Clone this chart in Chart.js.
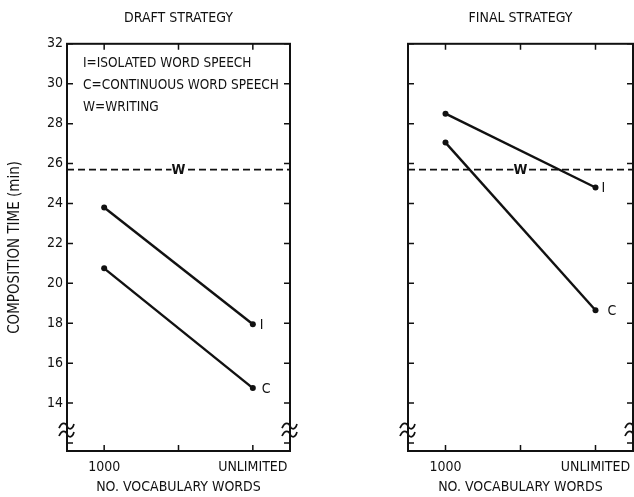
<!DOCTYPE html>
<html><head><meta charset="utf-8">
<script src="https://cdn.jsdelivr.net/npm/chart.js@4"></script>
<style>
html,body{margin:0;padding:0;background:#fff;}
#wrap{position:relative;width:634px;height:497px;overflow:hidden;background:#fff}
canvas{position:absolute;top:0}
#draft{left:0}
#final{left:317px}
</style></head><body>
<div id="wrap"><canvas id="draft" width="317" height="497"></canvas><canvas id="final" width="317" height="497"></canvas></div>
<script>
// Composition time (min) by vocabulary size, for two strategies
const vocabTickLabels = ['1000', '', 'UNLIMITED'];
const vocabX = [0, 2];              // positions of "1000" and "UNLIMITED"
const yTickValues = [12, 14, 16, 18, 20, 22, 24, 26, 28, 30, 32];

const draftIsolated   = [23.8, 17.95];
const draftContinuous = [20.75, 14.75];
const draftWriting    = 25.7;

const finalIsolated   = [28.5, 24.8];
const finalContinuous = [27.05, 18.65];
const finalWriting    = 25.7;

const legendLines = ['I=ISOLATED WORD SPEECH', 'C=CONTINUOUS WORD SPEECH', 'W=WRITING'];

const X_MIN = -0.5, X_MAX = 2.5, Y_MIN = 11.6, Y_MAX = 32;
const FONT = "'Liberation Sans Narrow','DejaVu Sans Condensed','DejaVu Sans',sans-serif";
const INK = '#111';
const TXT = 14;

function pts(values) { return values.map((v, i) => ({ x: vocabX[i], y: v })); }

// frame, inward ticks, axis breaks, series letters and key text
const plotDecor = {
  id: 'plotDecor',
  afterDatasetsDraw(chart, args, opts) {
    const ctx = chart.ctx, a = chart.chartArea;
    const xs = chart.scales.x, ys = chart.scales.y;
    ctx.save();
    ctx.strokeStyle = INK; ctx.fillStyle = INK;
    ctx.lineWidth = 2;
    ctx.strokeRect(a.left, a.top, a.right - a.left, a.bottom - a.top);
    ctx.lineWidth = 1.5;
    ctx.beginPath();
    ys.ticks.forEach(t => {
      const p = ys.getPixelForValue(t.value);
      if (p < a.top - 1 || p > a.bottom + 1) return;
      ctx.moveTo(a.left, p); ctx.lineTo(a.left + 6, p);
      ctx.moveTo(a.right, p); ctx.lineTo(a.right - 6, p);
    });
    xs.ticks.forEach(t => {
      const p = xs.getPixelForValue(t.value);
      ctx.moveTo(p, a.top); ctx.lineTo(p, a.top + 6);
      ctx.moveTo(p, a.bottom); ctx.lineTo(p, a.bottom - 6);
    });
    ctx.stroke();

    // axis break marks on both vertical axes
    ctx.lineWidth = 1.7;
    [a.left, a.right].forEach(x => {
      opts.breaks.forEach(v => {
        const y = ys.getPixelForValue(v);
        ctx.beginPath();
        ctx.moveTo(x - 8, y + 2);
        ctx.bezierCurveTo(x - 5, y - 5, x - 1, y - 3, x, y);
        ctx.bezierCurveTo(x + 1, y + 3, x + 5, y + 5, x + 7, y - 2);
        ctx.stroke();
      });
    });

    ctx.font = TXT + 'px ' + FONT;
    ctx.textBaseline = 'middle';
    // series letters at the line ends
    chart.data.datasets.forEach((ds, i) => {
      const meta = chart.getDatasetMeta(i);
      if (!ds.code) return;
      if (ds.isReference) {
        const x = xs.getPixelForValue(1);
        const y = ys.getPixelForValue(ds.data[0].y);
        ctx.fillStyle = '#fff';
        ctx.fillRect(x - 7, y - 7, 14, 14);
        ctx.fillStyle = INK;
        ctx.textAlign = 'center';
        ctx.font = 'bold ' + TXT + 'px ' + FONT;
        ctx.fillText(ds.code, x, y + 1);
        ctx.font = TXT + 'px ' + FONT;
      } else {
        const el = meta.data[meta.data.length - 1];
        ctx.textAlign = 'left';
        ctx.fillText(ds.code, el.x + ds.codeOffset, el.y + 1);
      }
    });

    if (opts.key) {
      ctx.textAlign = 'left';
      ctx.font = '13.5px ' + FONT;
      opts.key.forEach((line, i) => ctx.fillText(line, a.left + 16, a.top + 20 + i * 22));
    }
    ctx.restore();
  }
};

function makeChart(id, title, isoVals, conVals, writing, opts) {
  const f = { family: FONT, size: TXT, weight: 'normal' };
  return new Chart(document.getElementById(id), {
    type: 'line',
    data: {
      datasets: [
        { data: pts(isoVals), code: 'I', codeOffset: opts.iOffset },
        { data: pts(conVals), code: 'C', codeOffset: opts.cOffset },
        { data: [{ x: X_MIN, y: writing }, { x: X_MAX, y: writing }], code: 'W', isReference: true,
          borderDash: [7, 4], borderWidth: 1.7, pointRadius: 0 }
      ]
    },
    options: {
      responsive: false,
      animation: false,
      layout: { autoPadding: false, padding: { top: 0, left: 0, right: opts.padRight, bottom: 0 } },
      elements: {
        line: { borderColor: INK, borderWidth: 2.4, tension: 0 },
        point: { radius: 3, backgroundColor: INK, borderColor: INK, borderWidth: 0 }
      },
      plugins: {
        legend: { display: false },
        tooltip: { enabled: false },
        title: {
          display: true, text: title, fullSize: false, color: INK,
          font: f, padding: { top: 10, bottom: 17 }
        },
        plotDecor: { breaks: [12.85, 12.45], key: opts.key }
      },
      scales: {
        x: {
          type: 'linear', min: X_MIN, max: X_MAX,
          afterBuildTicks: s => { s.ticks = [0, 1, 2].map(v => ({ value: v })); },
          afterFit: s => { s.height = 46; },
          grid: { display: false }, border: { display: false },
          ticks: {
            autoSkip: false, maxRotation: 0, padding: 0, color: INK, font: f,
            callback: v => vocabTickLabels[v] ?? ''
          },
          title: {
            display: true, text: 'NO. VOCABULARY WORDS', color: INK,
            font: f, padding: { top: 0, bottom: 1 }
          }
        },
        y: {
          type: 'linear', min: Y_MIN, max: Y_MAX,
          afterBuildTicks: s => { s.ticks = yTickValues.map(v => ({ value: v })); },
          afterFit: s => { s.width = opts.yWidth; },
          grid: { display: false }, border: { display: false },
          ticks: {
            display: opts.showYLabels, padding: -4, color: INK, font: f,
            callback: v => (v === yTickValues[0] ? '' : String(v))
          },
          title: {
            display: opts.showYLabels, text: 'COMPOSITION TIME (min)', color: INK,
            font: { family: FONT, size: 15, weight: 'normal' }, padding: { top: 6, bottom: 0 }
          }
        }
      }
    },
    plugins: [plotDecor]
  });
}

makeChart('draft', 'DRAFT STRATEGY', draftIsolated, draftContinuous, draftWriting,
  { padRight: 27, yWidth: 67, showYLabels: true, key: legendLines, iOffset: 7, cOffset: 9 });
makeChart('final', 'FINAL STRATEGY', finalIsolated, finalContinuous, finalWriting,
  { padRight: 1, yWidth: 91, showYLabels: false, key: null, iOffset: 6, cOffset: 12 });
</script>
</body></html>
